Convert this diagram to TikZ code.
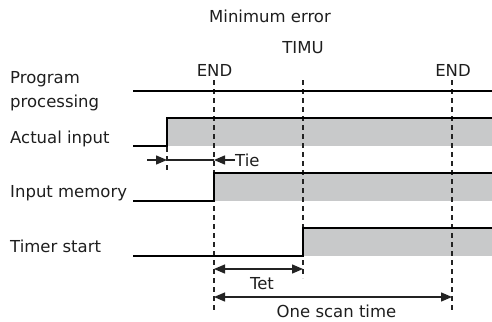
\documentclass[tikz,border=0pt]{standalone}
\usepackage{fontspec}
\setmainfont{DejaVu Sans}
\usetikzlibrary{arrows.meta}
\definecolor{fillgray}{RGB}{200,201,202}
\definecolor{txtgray}{RGB}{30,30,30}
\definecolor{dashgray}{RGB}{35,35,35}
\tikzset{
  lbl/.style={font=\fontsize{16.5}{24}\selectfont, text=txtgray, inner sep=0pt},
  sig/.style={line width=2.2pt, black, line cap=butt, line join=miter},
  vdash/.style={line width=1.2pt, dashgray, dash pattern=on 5pt off 4pt},
  dimarrow/.style={line width=1.3pt, dashgray, -{Triangle[length=11pt,width=9pt]}},
  dimboth/.style={line width=1.3pt, dashgray, {Triangle[length=11pt,width=9pt]}-{Triangle[length=11pt,width=9pt]}},
  band/.style={fill=fillgray, draw=none}
}
\begin{document}
\begin{tikzpicture}[x=1pt,y=-1pt]
\useasboundingbox (0,0) rectangle (492,321);
% key coordinates
\coordinate (e1t) at (214,80);
\coordinate (e1b) at (214,310);
\coordinate (tmt) at (303,80);
\coordinate (tmb) at (303,278);
\coordinate (e2t) at (452,80);
\coordinate (e2b) at (452,310);
% gray bands
\fill[band] (167,118) rectangle (492,146);
\fill[band] (214,173) rectangle (492,201);
\fill[band] (303,228) rectangle (492,256);
% dashed verticals
\draw[vdash] (e1t) -- (e1b);
\draw[vdash] (tmt) -- (tmb);
\draw[vdash] (e2t) -- (e2b);
\draw[vdash] (167,147) -- (167,170);
% signals
\draw[sig] (133,91) -- (492,91);
\draw[sig] (133,146) -- (167,146) -- (167,118) -- (492,118);
\draw[sig] (133,201) -- (214,201) -- (214,173) -- (492,173);
\draw[sig] (133,256) -- (303,256) -- (303,228) -- (492,228);
% texts
\node[lbl, anchor=base] (minerr) at (270,23) {Minimum error};
\node[lbl, anchor=base] (timu) at (303,53) {TIMU};
\node[lbl, anchor=base] (end1) at (214.5,77) {END};
\node[lbl, anchor=base] (end2) at (453,77) {END};
\node[lbl, anchor=north west, align=left] (prog) at (10,71) {Program\\processing};
\node[lbl, anchor=base west] (act) at (10,143) {Actual input};
\node[lbl, anchor=base west] (mem) at (10,197) {Input memory};
\node[lbl, anchor=base west] (tim) at (10,252) {Timer start};
\node[lbl, anchor=base west] (tie) at (235,166) {Tie};
\node[lbl, anchor=base] (tet) at (262,289) {Tet};
\node[lbl, anchor=base] (scan) at (336.5,317) {One scan time};
% Tie arrows
\coordinate (tiel) at (147,160);
\coordinate (tiea) at (167,160);
\coordinate (tieb) at (214,160);
\draw[dimarrow] (tiel) -- (tiea);
\draw[line width=1.3pt, dashgray] (tiea) -- (tieb);
\draw[dimarrow] (tie.west |- tieb) -- (tieb);
% Tet and scan arrows
\coordinate (tet1) at (214,269);
\coordinate (tet2) at (303,269);
\coordinate (sc1) at (214,297);
\coordinate (sc2) at (452,297);
\draw[dimboth] (tet1) -- (tet2);
\draw[dimboth] (sc1) -- (sc2);
\end{tikzpicture}
\end{document}
